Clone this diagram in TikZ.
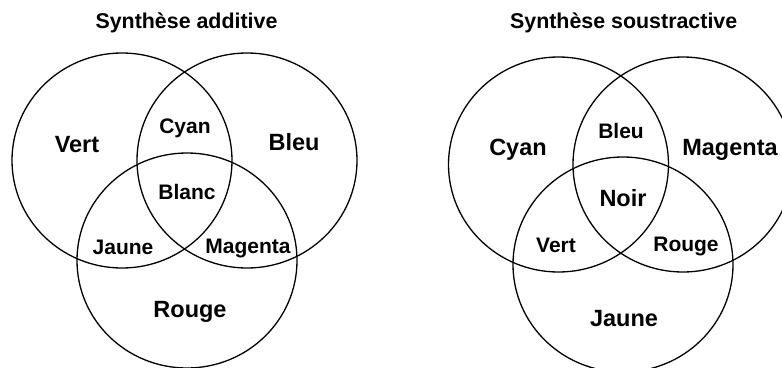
\documentclass[tikz,border=0pt]{standalone}
\usepackage{fontspec}
\setmainfont{Liberation Sans}
\begin{document}
\begin{tikzpicture}[x=1pt,y=-1pt,
  ring/.style={draw=black,line width=1.3pt},
  big/.style={font=\fontsize{23.5}{28}\selectfont\bfseries,anchor=base,inner sep=0pt},
  small/.style={font=\fontsize{21}{25}\selectfont\bfseries,anchor=base,inner sep=0pt},
  ttl/.style={font=\fontsize{21.4}{25}\selectfont\bfseries,anchor=base,inner sep=0pt}]
\useasboundingbox (0,0) rectangle (782,367);
\clip (0,0) rectangle (782,367);
% additive
\node[ttl] (t1) at (186.5,28) {Synthèse additive};
\draw[ring] (122,160.5) ellipse [x radius=110, y radius=107.5];
\draw[ring] (247,160.5) ellipse [x radius=110, y radius=107.5];
\draw[ring] (187,260.5) ellipse [x radius=110, y radius=107.5];
\node[big] (a1) at (77,152) {Vert};
\node[big] (a2) at (294,150) {Bleu};
\node[small] (a3) at (185,133) {Cyan};
\node[small] (a4) at (187,199.5) {Blanc};
\node[small] (a5) at (123,254) {Jaune};
\node[small] (a6) at (248,253) {Magenta};
\node[big] (a7) at (190,317) {Rouge};
% soustractive
\node[ttl] (t2) at (623.7,28) {Synthèse soustractive};
\draw[ring] (558.5,164.5) ellipse [x radius=110, y radius=107.5];
\draw[ring] (683,164.5) ellipse [x radius=110, y radius=107.5];
\draw[ring] (623,264.5) ellipse [x radius=110, y radius=107.5];
\node[big] (b1) at (518,155) {Cyan};
\node[small] (b2) at (621,138.7) {Bleu};
\node[big] (b3) at (730,155) {Magenta};
\node[big] (b4) at (623,206) {Noir};
\node[small] (b5) at (556,252) {Vert};
\node[small] (b6) at (686,251.7) {Rouge};
\node[big] (b7) at (624,326) {Jaune};
\end{tikzpicture}
\end{document}
